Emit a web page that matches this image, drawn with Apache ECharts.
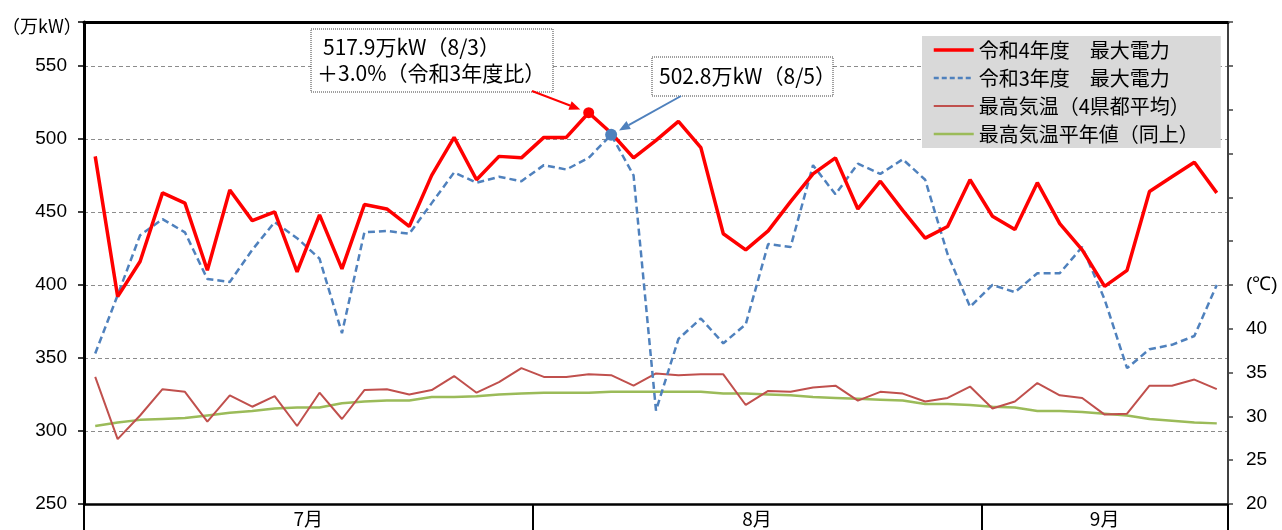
<!DOCTYPE html>
<html><head><meta charset="utf-8">
<script src="https://cdn.jsdelivr.net/npm/echarts@6/dist/echarts.min.js"></script>
<style>html,body{margin:0;padding:0;background:#fff}#c{width:1282px;height:530px}</style>
</head><body><div id="c"></div>
<script>
// 日付（平日・休日除く）
const categories = [
  '7/1','7/4','7/5','7/6','7/7','7/8','7/11','7/12','7/13','7/14','7/15','7/19','7/20','7/21','7/22','7/25','7/26','7/27','7/28','7/29',
  '8/1','8/2','8/3','8/4','8/5','8/8','8/9','8/10','8/12','8/17','8/18','8/19','8/22','8/23','8/24','8/25','8/26','8/29','8/30','8/31',
  '9/1','9/2','9/5','9/6','9/7','9/8','9/9','9/12','9/13','9/14','9/15'
];
const months = ['7月','8月','9月'];
const monthCounts = [20, 20, 11];
// 令和4年度 最大電力（万kW）
const power2022 = [488,392,416,463,456,410,465,444,450,409,448,411,455,452,440,475,501,472,
  488,487,501,501,517.9,504,487,499,512,494,435,424,437,457,476,487,
  452,471,451,432,440,472,447,438,470,442,424,399,410,464,474,484,463];
// 令和3年度 最大電力（万kW）
const power2021 = [353,393,434,445,436,404,402,424,443,432,418,367,436,437,435,456,477,470,
  474,471,482,479,487,502.8,475,314,363,377,360,373,428,426,482,462,
  483,476,486,472,421,385,400,395,408,408,426,390,343,356,359,365,400];
// 最高気温（4県都平均）℃
const tempMax = [34.5,27.4,30.1,33.1,32.8,29.4,32.4,31.1,32.3,28.9,32.7,29.7,33.0,33.1,32.5,33.0,34.6,32.7,
  33.9,35.5,34.5,34.5,34.8,34.7,33.5,34.9,34.7,34.8,34.8,31.3,32.9,32.8,33.3,33.5,
  31.8,32.8,32.6,31.7,32.1,33.4,30.9,31.7,33.8,32.4,32.1,30.2,30.3,33.5,33.5,34.2,33.1];
// 最高気温平年値（同上）℃
const tempNormal = [28.9,29.3,29.6,29.7,29.8,30.1,30.4,30.6,30.9,31.0,31.0,31.5,31.7,31.8,31.8,32.2,32.2,32.3,
  32.5,32.6,32.7,32.7,32.7,32.8,32.8,32.8,32.8,32.8,32.6,32.6,32.5,32.4,32.2,32.1,
  32.0,31.9,31.8,31.4,31.4,31.3,31.1,31.0,30.6,30.6,30.5,30.3,30.1,29.7,29.5,29.3,29.2];
const seriesNames = ['令和4年度　最大電力','令和3年度　最大電力','最高気温（4県都平均）','最高気温平年値（同上）'];
const peak2022Idx = 22, peak2022Label = ['517.9万kW（8/3）', '＋3.0%（令和3年度比）'];
const peak2021Idx = 23, peak2021Label = '502.8万kW（8/5）';

const monthStarts = [];
{ let s = 0; monthCounts.forEach(n => { monthStarts.push(s); s += n; }); }

const NUM = 'Liberation Sans, Arial, sans-serif';
const JP = 'Noto Sans CJK JP, sans-serif';
const styles = [
  {color: '#FF0000', width: 3.5, type: 'solid'},
  {color: '#4F81BD', width: 2.5, type: [7, 4]},
  {color: '#C0504D', width: 2, type: 'solid'},
  {color: '#9BBB59', width: 2.5, type: 'solid'}
];
const chart = echarts.init(document.getElementById('c'), null, {renderer: 'canvas'});
chart.setOption({
  animation: false,
  backgroundColor: '#fff',
  grid: {left: 84, right: 54, top: 22, bottom: 26, containLabel: false, outerBoundsMode: 'none'},
  legend: {
    orient: 'vertical', left: 922, top: 36,
    backgroundColor: '#D9D9D9', padding: [4, 22, 4, 10],
    itemWidth: 40, itemHeight: 14, itemGap: 8,
    itemStyle: {opacity: 0, borderWidth: 0},
    textStyle: {fontSize: 20, fontFamily: JP, color: '#000', lineHeight: 20},
    data: seriesNames.map((n, k) => ({name: n, lineStyle: {width: styles[k].width, type: styles[k].type === 'solid' ? 'solid' : [5, 3], color: styles[k].color}}))
  },
  xAxis: [{
    type: 'category', data: categories, boundaryGap: true, position: 'bottom',
    axisLine: {lineStyle: {color: '#000', width: 2.5}},
    axisTick: {show: true, interval: (i) => monthStarts.includes(i), length: 26, lineStyle: {color: '#000', width: 2}},
    axisLabel: {show: false}, splitLine: {show: false}
  }, {
    type: 'category', data: categories, position: 'top',
    axisLine: {lineStyle: {color: '#000', width: 3}},
    axisTick: {show: false}, axisLabel: {show: false}
  }],
  yAxis: [{
    type: 'value', min: 250, max: 580, interval: 50, position: 'left',
    axisLine: {show: true, lineStyle: {color: '#000', width: 3}},
    axisTick: {show: true, length: 6, lineStyle: {color: '#000', width: 1.5}},
    axisLabel: {margin: 17, fontSize: 19, color: '#000', fontFamily: NUM,
      formatter: v => v > 550 ? '' : String(v)},
    splitLine: {show: true, lineStyle: {color: '#8c8c8c', width: 1, type: [4, 3]}}
  }, {
    type: 'value', min: 20, max: 75, interval: 5, position: 'right',
    axisLine: {show: true, lineStyle: {color: '#404040', width: 2}},
    axisTick: {show: true, length: 5, lineStyle: {color: '#404040', width: 1.5}},
    axisLabel: {margin: 18, fontSize: 19, color: '#000', fontFamily: NUM,
      formatter: v => v <= 40 ? String(v) : (v === 45 ? '(℃)' : '')},
    splitLine: {show: false}
  }],
  series: [{
    name: seriesNames[0], type: 'line', data: power2022, symbol: 'none', z: 5,
    lineStyle: styles[0], itemStyle: {color: styles[0].color},
    markPoint: {symbol: 'circle', symbolSize: 11, label: {show: false}, itemStyle: {color: '#FF0000', opacity: 1},
      data: [{coord: [peak2022Idx, power2022[peak2022Idx]]}]}
  }, {
    name: seriesNames[1], type: 'line', data: power2021, symbol: 'none', z: 4,
    lineStyle: styles[1], itemStyle: {color: styles[1].color},
    markPoint: {symbol: 'circle', symbolSize: 12, label: {show: false}, itemStyle: {color: '#4F81BD', opacity: 1}, z: 6,
      data: [{coord: [peak2021Idx, power2021[peak2021Idx]]}]}
  }, {
    name: seriesNames[2], type: 'line', yAxisIndex: 1, data: tempMax, symbol: 'none', z: 3,
    lineStyle: styles[2], itemStyle: {color: styles[2].color}
  }, {
    name: seriesNames[3], type: 'line', yAxisIndex: 1, data: tempNormal, symbol: 'none', z: 2,
    lineStyle: styles[3], itemStyle: {color: styles[3].color}
  }]
});

function px(i, v) { return chart.convertToPixel({xAxisIndex: 0, yAxisIndex: 0}, [i, v]); }
function arrow(x1, y1, x2, y2, color) {
  const dx = x2 - x1, dy = y2 - y1, L = Math.hypot(dx, dy), ux = dx / L, uy = dy / L;
  const hl = 11, hw = 4.5;
  const bx = x2 - ux * hl, by = y2 - uy * hl;
  return [
    {type: 'line', shape: {x1, y1, x2: bx, y2: by}, style: {stroke: color, lineWidth: 2}, z: 20},
    {type: 'polygon', shape: {points: [[x2, y2], [bx - uy * hw, by + ux * hw], [bx + uy * hw, by - ux * hw]]},
      style: {fill: color}, z: 20}
  ];
}
const g = [];
// month labels
const bottomY = px(0, 250)[1];
months.forEach((m, k) => {
  const a = px(monthStarts[k], 300)[0], b = px(monthStarts[k] + monthCounts[k] - 1, 300)[0];
  g.push({type: 'text', x: (a + b) / 2, y: bottomY + 15,
    style: {text: m, fontSize: 19, fontFamily: JP, fill: '#000', align: 'center', verticalAlign: 'middle'}});
});
// right end separator below axis
{
  const n = categories.length;
  const xr = px(n - 1, 300)[0] + (px(n - 1, 300)[0] - px(n - 2, 300)[0]) / 2;
  g.push({type: 'line', shape: {x1: xr, y1: bottomY, x2: xr, y2: bottomY + 26}, style: {stroke: '#000', lineWidth: 2}});
}
// unit label
g.push({type: 'text', x: 2, y: 26, style: {text: '（万kW）', fontSize: 18, fontFamily: JP, fill: '#000', verticalAlign: 'middle'}});
// annotation box 1
g.push({type: 'rect', shape: {x: 311, y: 29, width: 242, height: 63},
  style: {fill: '#fff', stroke: '#404040', lineWidth: 1, lineDash: [1, 1]}, z: 15});
g.push({type: 'text', x: 323, y: 47, z: 16, style: {text: peak2022Label[0], fontSize: 21, fontFamily: JP, fill: '#000', verticalAlign: 'middle'}});
g.push({type: 'text', x: 317, y: 73, z: 16, style: {text: peak2022Label[1], fontSize: 21, fontFamily: JP, fill: '#000', verticalAlign: 'middle'}});
// annotation box 2
g.push({type: 'rect', shape: {x: 652, y: 57, width: 181, height: 39},
  style: {fill: '#fff', stroke: '#404040', lineWidth: 1, lineDash: [1, 1]}, z: 15});
g.push({type: 'text', x: 659, y: 76, z: 16, style: {text: peak2021Label, fontSize: 21, fontFamily: JP, fill: '#000', verticalAlign: 'middle'}});
// arrows
const p1 = px(peak2022Idx, power2022[peak2022Idx]);
const p2 = px(peak2021Idx, power2021[peak2021Idx]);
(function () {
  const sx = 532, sy = 91; const d = Math.hypot(p1[0] - sx, p1[1] - sy);
  g.push(...arrow(sx, sy, p1[0] - (p1[0] - sx) / d * 9, p1[1] - (p1[1] - sy) / d * 9, '#FF0000'));
  const tx = 681, ty = 96; const e = Math.hypot(p2[0] - tx, p2[1] - ty);
  g.push(...arrow(tx, ty, p2[0] - (p2[0] - tx) / e * 9, p2[1] - (p2[1] - ty) / e * 9, '#4F81BD'));
})();
chart.setOption({graphic: g});
</script></body></html>
